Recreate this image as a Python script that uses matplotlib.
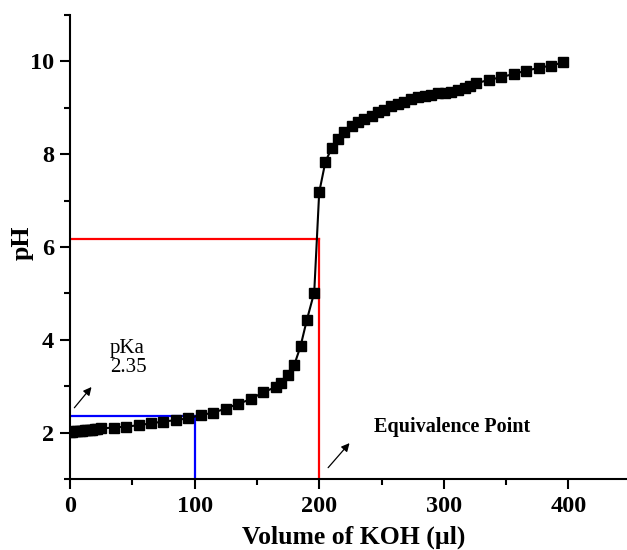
import matplotlib
matplotlib.use("Agg")
import matplotlib.pyplot as plt
from matplotlib.ticker import MultipleLocator

# Titration of the acid with KOH
volume_ul = [0, 2, 4, 6, 8, 10, 12, 14, 16, 18, 20, 22, 25,
             35, 45, 55, 65, 75, 85, 95, 105, 115, 125, 135, 145, 155,
             165, 169, 175, 180, 185, 190, 196,
             200, 205, 210, 215, 220, 226, 231, 236, 242, 247, 252, 258,
             263, 268, 274, 279, 285, 290, 295, 301, 306, 311, 317, 321,
             326, 336, 346, 356, 366, 376, 386, 396]
ph = [2.02, 2.02, 2.03, 2.03, 2.04, 2.04, 2.05, 2.05, 2.06, 2.06, 2.07, 2.08, 2.09,
      2.11, 2.13, 2.16, 2.20, 2.24, 2.27, 2.31, 2.38, 2.43, 2.52, 2.62, 2.72, 2.87,
      2.98, 3.08, 3.24, 3.46, 3.86, 4.42, 5.02,
      7.18, 7.84, 8.13, 8.33, 8.48, 8.60, 8.70, 8.76, 8.83, 8.90, 8.96, 9.03,
      9.08, 9.13, 9.19, 9.23, 9.26, 9.28, 9.31, 9.33, 9.35, 9.38, 9.43, 9.48,
      9.53, 9.60, 9.66, 9.73, 9.80, 9.86, 9.91, 9.98]

equiv_volume = 200
equiv_ph = 6.17
half_volume = 100
pka = 2.35

serif = ["Liberation Serif", "DejaVu Serif"]
plt.rcParams["font.family"] = serif

fig = plt.figure(figsize=(6.27, 5.5), dpi=100)
ax = fig.add_axes([0.1116, 0.129, 0.8884, 0.8437])

ax.plot(volume_ul, ph, color="black", lw=1.5, marker="s", ms=7, zorder=3)

# equivalence point guides
ax.plot([0, equiv_volume], [equiv_ph, equiv_ph], color="red", lw=1.6, zorder=2)
ax.plot([equiv_volume, equiv_volume], [1, equiv_ph], color="red", lw=1.6, zorder=2)
# half-equivalence (pKa) guides
ax.plot([0, half_volume], [pka, pka], color="blue", lw=1.6, zorder=2)
ax.plot([half_volume, half_volume], [1, pka], color="blue", lw=1.6, zorder=2)

ax.text(32, 3.61, "pKa\n2.35", fontsize=15, ha="left", va="center",
        multialignment="left", linespacing=1.05)
ax.annotate("", xy=(18.7, 3.03), xytext=(2.1, 2.49),
            arrowprops=dict(arrowstyle="-|>", color="black", lw=0.9, mutation_scale=12))
ax.text(244, 2.12, "Equivalence Point", fontsize=14.5, fontweight="bold",
        ha="left", va="center")
ax.annotate("", xy=(225.8, 1.82), xytext=(205.7, 1.2),
            arrowprops=dict(arrowstyle="-|>", color="black", lw=0.9, mutation_scale=12))

ax.set_xlim(0, 447)
ax.set_ylim(1, 11)
ax.xaxis.set_major_locator(MultipleLocator(100))
ax.xaxis.set_minor_locator(MultipleLocator(50))
ax.yaxis.set_major_locator(MultipleLocator(2))
ax.yaxis.set_minor_locator(MultipleLocator(1))
ax.tick_params(which="both", direction="out", width=1.5, labelsize=17.5)
ax.tick_params(which="major", length=7.5)
ax.tick_params(which="minor", length=4.5)
ax.tick_params(axis="x", pad=5)
ax.tick_params(axis="y", pad=4)
for lbl in ax.get_xticklabels() + ax.get_yticklabels():
    lbl.set_fontweight("bold")

for side in ("top", "right"):
    ax.spines[side].set_visible(False)
for side in ("left", "bottom"):
    ax.spines[side].set_linewidth(1.5)

ax.set_xlabel("Volume of KOH (\u00b5l)", fontsize=18.5, fontweight="bold")
ax.set_ylabel("pH", fontsize=18.5, fontweight="bold")
ax.xaxis.set_label_coords(0.51, -0.1)
ax.yaxis.set_label_coords(-0.066, 0.51)

fig.savefig("out.png", dpi=100, facecolor="white")
